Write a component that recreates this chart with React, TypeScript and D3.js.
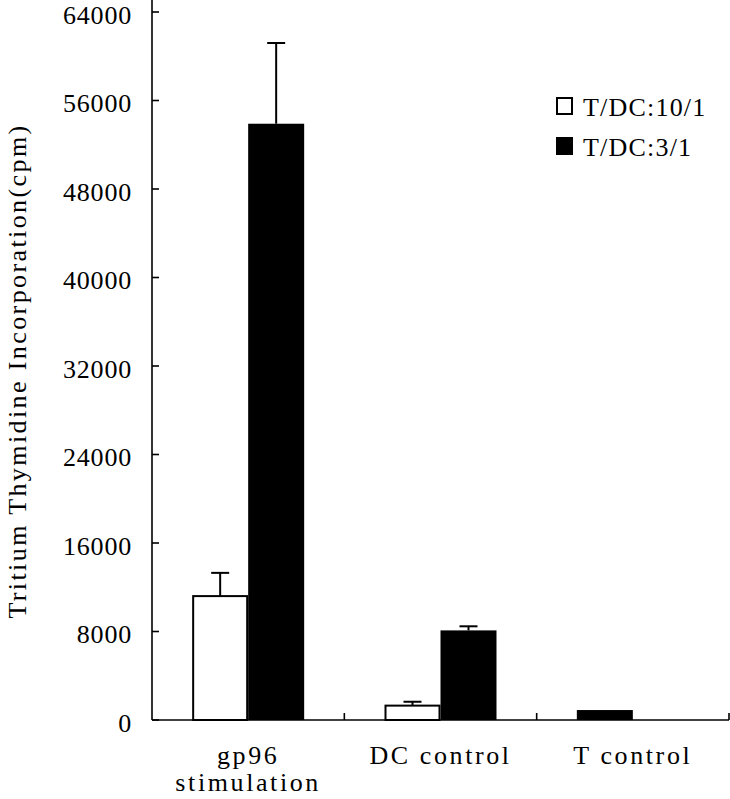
import React from "react";
import * as d3 from "d3";

// chart values
const categories = ["gp96 stimulation", "DC control", "T control"];
const categoryLines = [["gp96", "stimulation"], ["DC control"], ["T control"]];
const seriesNames = ["T/DC:10/1", "T/DC:3/1"];
const ratio10Values = [11200, 1300, 900];
const ratio10Errors = [2100, 350, 0];
const ratio3Values = [53900, 8100, 0];
const ratio3Errors = [7300, 370, 0];
const yTicks = [0, 8000, 16000, 24000, 32000, 40000, 48000, 56000, 64000];

// the T control bar is drawn solid in the original
const ratio10Fills = ["#fff", "#fff", "#000"];

const width = 730;
const height = 799;
const margin = { left: 152, right: 1, top: 12, bottom: 79 };
const font = "'Liberation Serif', 'DejaVu Serif', serif";
const fontSize = 26;

function Label({ x, y, text, anchor = "middle", rotate = 0, spacing = 2 }) {
  return (
    <g transform={`translate(${x},${y}) rotate(${rotate})`}>
      <text
        fontFamily={font}
        fontSize={fontSize}
        textAnchor={anchor}
        dominantBaseline="central"
        letterSpacing={spacing}
        fill="#000"
      >
        {text}
      </text>
    </g>
  );
}

export default function App() {
  const x = d3
    .scaleBand()
    .domain(categories)
    .range([margin.left, width - margin.right])
    .padding(0);

  const groupWidth = 112;
  const xs = d3.scaleBand().domain(seriesNames).range([0, groupWidth]);

  const y = d3
    .scaleLinear()
    .domain([0, 64000])
    .range([height - margin.bottom, margin.top]);

  const series = [
    { name: seriesNames[0], values: ratio10Values, errors: ratio10Errors, fills: ratio10Fills },
    { name: seriesNames[1], values: ratio3Values, errors: ratio3Errors, fills: categories.map(() => "#000") },
  ];

  const y0 = y(0);
  const bw = xs.bandwidth();

  return (
    <svg
      width={width}
      height={height}
      style={{ position: "absolute", left: 0, top: 0, background: "#fff" }}
    >
      <rect width={width} height={height} fill="#fff" />

      {/* bars */}
      {series.map((s) =>
        categories.map((c, i) => {
          const v = s.values[i];
          if (!v) return null;
          const bx = x(c) + (x.bandwidth() - groupWidth) / 2 + xs(s.name);
          const fill = s.fills[i];
          const white = fill === "#fff";
          return (
            <g key={s.name + c}>
              <rect
                x={white ? bx + 1 : bx}
                y={y(v)}
                width={white ? bw - 2 : bw}
                height={y0 - y(v)}
                fill={fill}
                stroke="#000"
                strokeWidth={white ? 2 : 0}
              />
              {s.errors[i] > 0 && (
                <g stroke="#000" strokeWidth={2}>
                  <line x1={bx + bw / 2} x2={bx + bw / 2} y1={y(v)} y2={y(v + s.errors[i])} />
                  <line x1={bx + bw / 2 - 9} x2={bx + bw / 2 + 9} y1={y(v + s.errors[i])} y2={y(v + s.errors[i])} />
                </g>
              )}
            </g>
          );
        })
      )}

      {/* axes */}
      <g stroke="#000" strokeWidth={1.6}>
        <line x1={margin.left} x2={margin.left} y1={0} y2={y0} />
        <line x1={margin.left} x2={width - margin.right} y1={y0} y2={y0} />
        {yTicks.map((t) => (
          <line key={t} x1={margin.left} x2={margin.left + 7} y1={y(t)} y2={y(t)} />
        ))}
        {categories.map((c) => (
          <line key={c} x1={x(c) + x.bandwidth()} x2={x(c) + x.bandwidth()} y1={y0} y2={y0 - 7} />
        ))}
      </g>

      {yTicks.map((t) => (
        <Label key={t} x={132} y={y(t) + 3} text={String(t)} anchor="end" spacing={0.8} />
      ))}

      {categories.map((c, i) =>
        categoryLines[i].map((line, j) => (
          <Label key={c + j} x={x(c) + x.bandwidth() / 2} y={755 + j * 27} text={line} spacing={2.6} />
        ))
      )}

      <Label
        x={17}
        y={(margin.top + y0) / 2 + 5}
        text="Tritium Thymidine Incorporation(cpm)"
        rotate={-90}
        spacing={2.4}
      />

      {/* legend */}
      {seriesNames.map((n, i) => (
        <g key={n}>
          <rect
            x={557}
            y={98 + i * 40}
            width={15}
            height={16}
            fill={i === 0 ? "#fff" : "#000"}
            stroke="#000"
            strokeWidth={2}
          />
          <Label x={583} y={107 + i * 40} text={n} anchor="start" spacing={1.2} />
        </g>
      ))}
    </svg>
  );
}
